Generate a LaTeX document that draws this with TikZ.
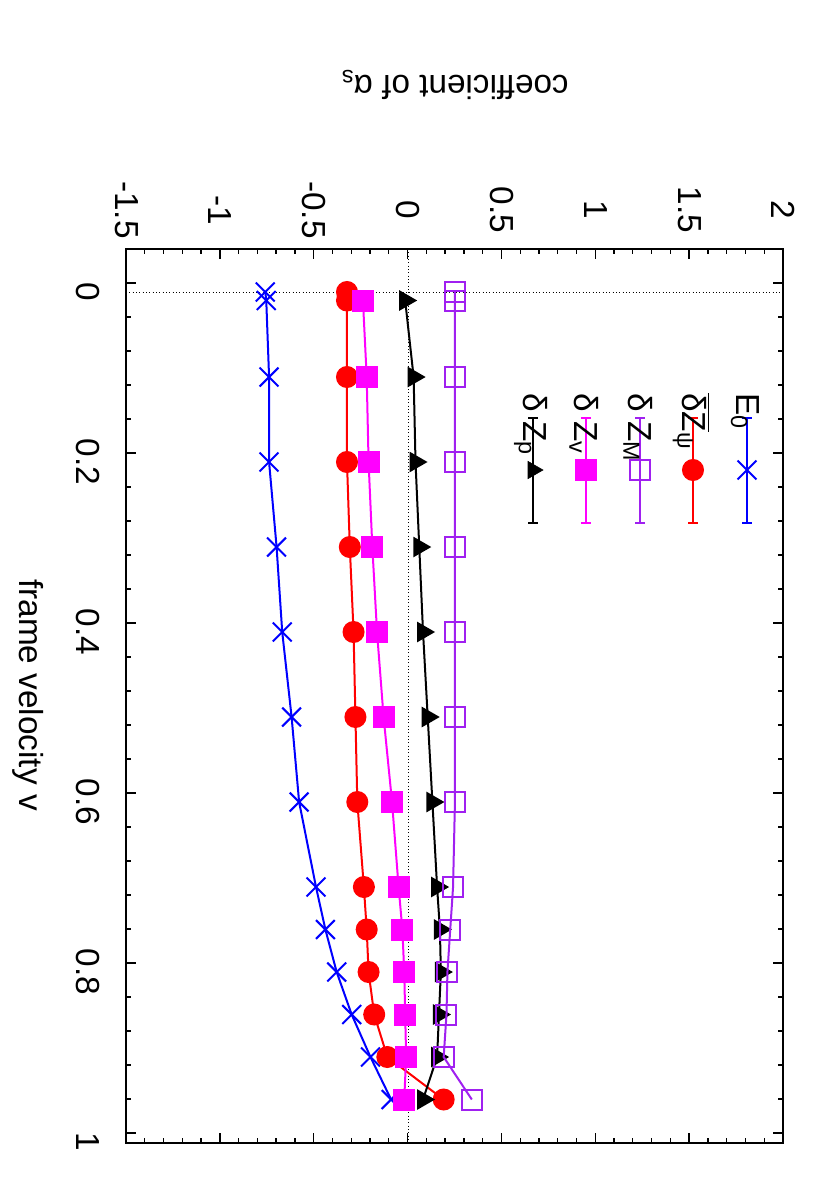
\documentclass[tikz,border=0pt]{standalone}
\usepackage{fontspec}
\setmainfont{Liberation Sans}
\usetikzlibrary{plotmarks}
\definecolor{gmag}{RGB}{255,0,255}
\definecolor{gpur}{RGB}{160,32,240}
\begin{document}
\begin{tikzpicture}[x=0.75pt,y=-0.75pt,
  lbl/.style={font=\fontsize{25}{28}\selectfont,inner sep=0pt},
  curve/.style={line width=1.5pt},
  mk/.style={mark size=7.5pt,mark options={solid,line width=1.5pt}},
  bigx/.style={mark size=10pt},
  turnmk/.style={mark options={rotate=-90}},
  plainmk/.style={},
  bar/.style={line width=1.5pt}]
\useasboundingbox (0,0) rectangle (830,1186);
% frame and ticks
\draw[dotted,line width=0.5pt] (408,249) -- (408,1143);
\draw[dotted,line width=0.5pt] (126,292) -- (783,292);
\foreach \i in {0,...,35}{
  \pgfmathsetmacro\px{126+\i*18.77}
  \pgfmathsetmacro\len{ifthenelse(mod(\i,5)==0,10,5)}
  \draw[line width=1pt] (\px,249) -- (\px,249+\len);
  \draw[line width=1pt] (\px,1143) -- (\px,1143-\len);
}
\foreach \i in {0,...,26}{
  \pgfmathsetmacro\py{249+\i*34}
  \pgfmathsetmacro\len{ifthenelse(mod(\i-1,5)==0,10,5)}
  \draw[line width=1pt] (126,\py) -- (126+\len,\py);
  \draw[line width=1pt] (783,\py) -- (783-\len,\py);
}
\draw[line width=1.5pt] (126,249) rectangle (783,1143);
% tick labels
\foreach \c/\t in {-1.5/-1.5,-1/-1,-0.5/-0.5,0/0,0.5/0.5,1/1,1.5/1.5,2/2}
  \node[lbl,rotate=-90] (c\t) at (408+187.7*\c,210) {\t};
\foreach \v in {0,0.2,0.4,0.6,0.8,1}
  \node[lbl,rotate=-90] (v\v) at (88,292+850*\v) {\v};
\node[lbl,rotate=180] (ytitle) at (455,85) {coefficient of α\textsubscript{s}};
\node[lbl,rotate=-90] (xtitle) at (28,695) {frame velocity v};
% data
\begin{scope}[shift={(408,292)},x=140.8pt,y=-637.5pt]
\draw[curve,blue,mk,bigx] plot[mark=x] coordinates {(-0.76,0) (-0.755,0.01) (-0.74,0.1) (-0.74,0.2) (-0.70,0.3) (-0.67,0.4) (-0.62,0.5) (-0.58,0.6) (-0.49,0.7) (-0.44,0.75) (-0.38,0.8) (-0.30,0.85) (-0.20,0.9) (-0.09,0.95)};
\draw[curve,red,mk] plot[mark=*] coordinates {(-0.325,0) (-0.325,0.01) (-0.325,0.1) (-0.325,0.2) (-0.31,0.3) (-0.29,0.4) (-0.28,0.5) (-0.27,0.6) (-0.235,0.7) (-0.22,0.75) (-0.21,0.8) (-0.18,0.85) (-0.11,0.9) (0.19,0.95)};
\draw[curve,gmag,mk] plot[mark=square*] coordinates {(-0.24,0.01) (-0.22,0.1) (-0.21,0.2) (-0.19,0.3) (-0.165,0.4) (-0.13,0.5) (-0.085,0.6) (-0.05,0.7) (-0.03,0.75) (-0.02,0.8) (-0.015,0.85) (-0.01,0.9) (-0.02,0.95)};
\draw[curve,black,mk,turnmk] plot[mark=triangle*] coordinates {(-0.015,0.01) (0.03,0.1) (0.04,0.2) (0.06,0.3) (0.08,0.4) (0.105,0.5) (0.13,0.6) (0.155,0.7) (0.17,0.75) (0.175,0.8) (0.165,0.85) (0.155,0.9) (0.08,0.95)};
\draw[curve,gpur,mk] plot[mark=square] coordinates {(0.25,0) (0.25,0.01) (0.25,0.1) (0.25,0.2) (0.25,0.3) (0.25,0.4) (0.25,0.5) (0.25,0.6) (0.24,0.7) (0.225,0.75) (0.21,0.8) (0.205,0.85) (0.19,0.9) (0.34,0.95)};
\end{scope}
% legend
\foreach \x/\col/\m/\opt/\t in {
  747/blue/x/bigx/{E\textsubscript{0}},
  693/red/*/plainmk/{\ensuremath{\overline{\hbox{δZ}}}\textsubscript{ψ}},
  640/gpur/square/plainmk/{δ Z\textsubscript{M}},
  586/gmag/square*/plainmk/{δ Z\textsubscript{v}},
  533/black/triangle*/turnmk/{δ Z\textsubscript{p}}}{
  \draw[bar,\col] (\x,418) -- (\x,523) (\x-5,418) -- (\x+5,418) (\x-5,523) -- (\x+5,523);
  \draw[\col,mk,\opt] plot[mark=\m] coordinates {(\x,470)};
  \node[lbl,rotate=-90,anchor=west] (key\x) at (\x-2,393) {\t};
}
\end{tikzpicture}
\end{document}
